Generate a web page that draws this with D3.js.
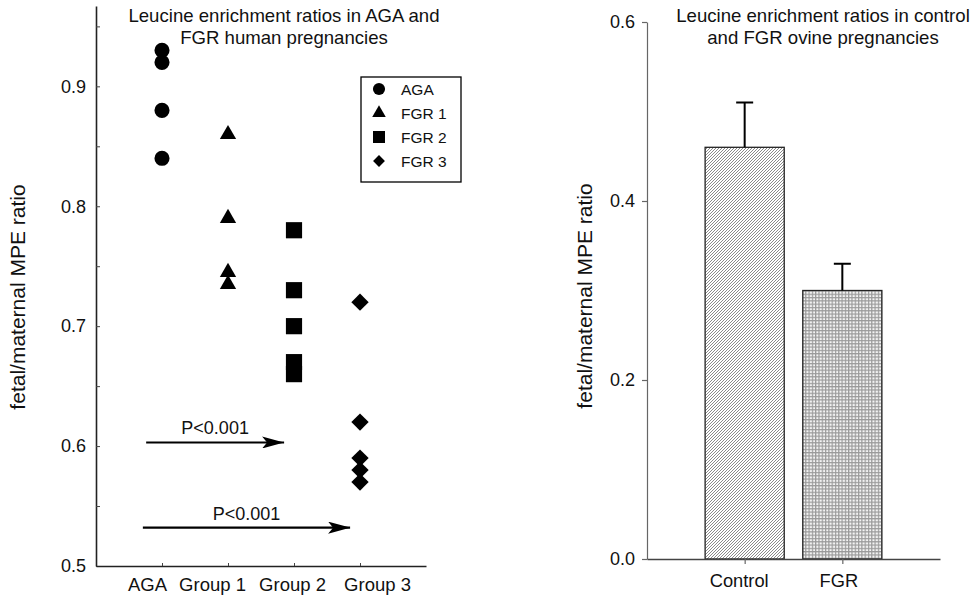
<!DOCTYPE html>
<html>
<head>
<meta charset="utf-8">
<script src="https://cdn.jsdelivr.net/npm/d3@7"></script>
<style>
  html, body { margin: 0; padding: 0; background: #fff; }
  svg { display: block; font-family: "Liberation Sans", Arial, sans-serif; }
</style>
</head>
<body>
<svg id="chart" width="975" height="596"></svg>
<script>
// ---------- Data ----------
const groupLabels = ["AGA", "Group 1", "Group 2", "Group 3"];
const seriesNames = ["AGA", "FGR 1", "FGR 2", "FGR 3"];
const agaValues  = [0.93, 0.92, 0.88, 0.84];
const fgr1Values = [0.86, 0.79, 0.745, 0.735];
const fgr2Values = [0.78, 0.73, 0.70, 0.67, 0.66];
const fgr3Values = [0.72, 0.62, 0.59, 0.58, 0.57];
const leftMajorTicks = [0.5, 0.6, 0.7, 0.8, 0.9];
const leftMinorTicks = [0.55, 0.65, 0.75, 0.85, 0.95];
// significance arrows: [fromGroupPos, toGroupPos, yValue, label]
const arrowFrom  = [0.76, 0.71];
const arrowTo    = [2.85, 3.85];
const arrowY     = [0.603, 0.532];
const arrowLabel = ["P<0.001", "P<0.001"];

const barCategories = ["Control", "FGR"];
const barValues     = [0.46, 0.30];
const barErrors     = [0.05, 0.03];
const rightTicks    = [0.0, 0.2, 0.4, 0.6];

const leftTitle  = ["Leucine enrichment ratios in AGA and", "FGR human pregnancies"];
const rightTitle = ["Leucine enrichment ratios in control", "and FGR ovine pregnancies"];
const yLabel = "fetal/maternal MPE ratio";

// ---------- Setup ----------
const svg = d3.select("#chart");
const defs = svg.append("defs");

// hatch pattern (Control)
const p1 = defs.append("pattern").attr("id", "hatch")
  .attr("patternUnits", "userSpaceOnUse").attr("width", 3).attr("height", 3);
p1.append("rect").attr("width", 3).attr("height", 3).attr("fill", "#fff");
p1.append("path").attr("d", "M-1,1 L1,-1 M0,3 L3,0 M2,4 L4,2")
  .attr("stroke", "#8a8a8a").attr("stroke-width", 1);

// grid pattern (FGR)
const p2 = defs.append("pattern").attr("id", "grid")
  .attr("patternUnits", "userSpaceOnUse").attr("width", 3.3).attr("height", 3.3);
p2.append("rect").attr("width", 3.3).attr("height", 3.3).attr("fill", "#9a9a9a");
p2.append("rect").attr("x", 1.2).attr("y", 1.2).attr("width", 2.1).attr("height", 2.1).attr("fill", "#f4f4f4");

const diamondType = {
  draw(context, size) {
    const r = Math.sqrt(size / 2);
    context.moveTo(0, -r); context.lineTo(r, 0); context.lineTo(0, r); context.lineTo(-r, 0); context.closePath();
  }
};
const symTypes = [d3.symbolCircle, d3.symbolTriangle, d3.symbolSquare, diamondType];
const symSizes = [180, 115, 262, 150];
const legendSizes = [115, 80, 144, 70];

// ---------- Left chart ----------
const xL = d3.scaleLinear().domain([0, 5]).range([96, 426]);
const yL = d3.scaleLinear().domain([0.5, 0.967]).range([566, 6]);

const gL = svg.append("g");

// y axis
const yAxisL = d3.axisLeft(yL).tickValues(leftMajorTicks).tickFormat(d3.format(".1f"))
  .tickSizeInner(-4).tickSizeOuter(0).tickPadding(10);
const yAx = gL.append("g").attr("transform", `translate(${xL(0)},0)`).call(yAxisL);
yAx.select(".domain").attr("stroke", "#222").attr("stroke-width", 1.6);
yAx.selectAll(".tick line").attr("stroke", "#444");
yAx.selectAll("text").attr("font-size", 18).attr("fill", "#111").attr("font-family", "Liberation Sans, Arial");
gL.append("g").attr("transform", `translate(${xL(0)},0)`)
  .call(d3.axisLeft(yL).tickValues(leftMinorTicks).tickFormat("").tickSizeInner(-4).tickSizeOuter(0))
  .call(g => g.select(".domain").remove())
  .call(g => g.selectAll("line").attr("stroke", "#444"));

// x axis
const xAxisL = d3.axisBottom(xL).tickValues([1, 2, 3, 4]).tickFormat((d, i) => groupLabels[i])
  .tickSizeInner(-3).tickSizeOuter(0).tickPadding(12);
const xAx = gL.append("g").attr("transform", `translate(0,${yL(0.5)})`).call(xAxisL);
xAx.select(".domain").attr("stroke", "#222").attr("stroke-width", 1.6);
xAx.selectAll(".tick line").attr("stroke", "#444");
const labelShift = [-15, -16, -2, 17];
xAx.selectAll("text").attr("font-size", 18.5).attr("fill", "#111").attr("font-family", "Liberation Sans, Arial")
  .attr("dx", (d, i) => labelShift[i]);

// points
const allSeries = [agaValues, fgr1Values, fgr2Values, fgr3Values];
allSeries.forEach((vals, si) => {
  gL.selectAll(null).data(vals).join("path")
    .attr("transform", d => `translate(${xL(si + 1)},${yL(d)})`)
    .attr("d", d3.symbol().type(symTypes[si]).size(symSizes[si]))
    .attr("fill", "#000");
});

// arrows
defs.append("marker").attr("id", "arrowhead").attr("viewBox", "0 0 22 12")
  .attr("refX", 22).attr("refY", 6).attr("markerWidth", 22).attr("markerHeight", 12)
  .attr("markerUnits", "userSpaceOnUse").attr("orient", "auto")
  .append("path").attr("d", "M0,0 L22,6 L0,12 L5,6 Z").attr("fill", "#000");

arrowY.forEach((yv, i) => {
  gL.append("line")
    .attr("x1", xL(arrowFrom[i])).attr("x2", xL(arrowTo[i]))
    .attr("y1", yL(yv)).attr("y2", yL(yv))
    .attr("stroke", "#000").attr("stroke-width", 2.2)
    .attr("marker-end", "url(#arrowhead)");
  gL.append("text")
    .attr("x", (xL(arrowFrom[i]) + xL(arrowTo[i])) / 2)
    .attr("y", yL(yv) - 8)
    .attr("text-anchor", "middle").attr("font-size", 18).attr("fill", "#111")
    .text(arrowLabel[i]);
});

// title
leftTitle.forEach((t, i) => {
  gL.append("text").attr("x", 284).attr("y", 22 + i * 21.5)
    .attr("text-anchor", "middle").attr("font-size", 18.6).attr("fill", "#111").text(t);
});

// y label
gL.append("text").attr("transform", "translate(25,297) rotate(-90)")
  .attr("text-anchor", "middle").attr("font-size", 21).attr("fill", "#111").text(yLabel);

// legend
const lg = gL.append("g");
lg.append("rect").attr("x", 361).attr("y", 77).attr("width", 100).attr("height", 105)
  .attr("fill", "#fff").attr("stroke", "#000").attr("stroke-width", 1.3);
seriesNames.forEach((name, i) => {
  const cy = 89 + i * 24;
  lg.append("path").attr("transform", `translate(379,${cy})`)
    .attr("d", d3.symbol().type(symTypes[i]).size(legendSizes[i])).attr("fill", "#000");
  lg.append("text").attr("x", 401).attr("y", cy + 5.5).attr("font-size", 15.5).attr("fill", "#111").text(name);
});

// ---------- Right chart ----------
const xR = d3.scaleLinear().domain([0, 3]).range([647, 940]);
const yR = d3.scaleLinear().domain([0, 0.6]).range([559, 22]);
const gR = svg.append("g");
const barW = 0.81;

// bars
gR.selectAll(".bar").data(barValues).join("rect")
  .attr("x", (d, i) => xR(i + 1 - barW / 2))
  .attr("width", xR(barW) - xR(0))
  .attr("y", d => yR(d))
  .attr("height", d => yR(0) - yR(d))
  .attr("fill", (d, i) => i === 0 ? "url(#hatch)" : "url(#grid)")
  .attr("stroke", "#222").attr("stroke-width", 1.3);

// error bars
gR.selectAll(".err").data(barValues).join("path")
  .attr("d", (d, i) => {
    const cx = xR(i + 1), top = yR(d + barErrors[i]);
    return `M${cx},${yR(d)} V${top} M${cx - 8.5},${top} H${cx + 8.5}`;
  })
  .attr("stroke", "#000").attr("stroke-width", 2).attr("fill", "none");

// y axis
const yAxR = gR.append("g").attr("transform", `translate(${xR(0)},0)`)
  .call(d3.axisLeft(yR).tickValues(rightTicks).tickFormat(d3.format(".1f")).tickSizeInner(5).tickSizeOuter(0).tickPadding(7));
yAxR.select(".domain").attr("stroke", "#666").attr("stroke-width", 1.2);
yAxR.selectAll(".tick line").attr("stroke", "#666").attr("stroke-width", 1.2);
yAxR.selectAll("text").attr("font-size", 18).attr("fill", "#111").attr("font-family", "Liberation Sans, Arial");

// x axis
const xAxR = gR.append("g").attr("transform", `translate(0,${yR(0)})`)
  .call(d3.axisBottom(xR).tickValues([1, 2]).tickFormat((d, i) => barCategories[i]).tickSizeInner(5).tickSizeOuter(0).tickPadding(10));
xAxR.select(".domain").attr("stroke", "#444").attr("stroke-width", 1.4);
xAxR.selectAll(".tick line").attr("stroke", "#666").attr("stroke-width", 1.2);
const rightShift = [-6, -4];
xAxR.selectAll("text").attr("font-size", 18.3).attr("fill", "#111").attr("font-family", "Liberation Sans, Arial")
  .attr("dx", (d, i) => rightShift[i]);

// title
rightTitle.forEach((t, i) => {
  gR.append("text").attr("x", 823).attr("y", 22 + i * 21.5)
    .attr("text-anchor", "middle").attr("font-size", 18.6).attr("fill", "#111").text(t);
});

// y label
gR.append("text").attr("transform", "translate(592,296) rotate(-90)")
  .attr("text-anchor", "middle").attr("font-size", 21).attr("fill", "#111").text(yLabel);
</script>
</body>
</html>
